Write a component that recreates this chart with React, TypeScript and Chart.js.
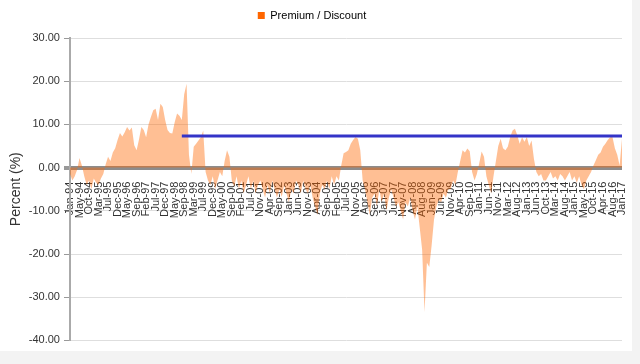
import React, { useEffect, useRef } from "react";
import { Chart, registerables } from "chart.js";

Chart.register(...registerables);

// Tick labels shown on the x axis (one every 4 data points)
const tickLabels: string[] = [
  "Jan-94", "May-94", "Oct-94", "Mar-95", "Jul-95", "Dec-95", "May-96", "Sep-96", "Feb-97", "Jul-97",
  "Dec-97", "May-98", "Sep-98", "Mar-99", "Jul-99", "Dec-99", "May-00", "Sep-00", "Feb-01", "Jul-01",
  "Nov-01", "Apr-02", "Sep-02", "Jan-03", "Jun-03", "Nov-03", "Apr-04", "Sep-04", "Feb-05", "Jul-05",
  "Nov-05", "Apr-06", "Sep-06", "Jan-07", "Jun-07", "Nov-07", "Apr-08", "Aug-08", "Jan-09", "Jun-09",
  "Nov-09", "Apr-10", "Sep-10", "Jan-11", "Jun-11", "Nov-11", "Mar-12", "Aug-12", "Jan-13", "Jun-13",
  "Oct-13", "Mar-14", "Aug-14", "Jan-15", "May-15", "Oct-15", "Apr-16", "Aug-16", "Jan-17",
];

const POINTS_PER_TICK = 4;

// Premium / Discount (%) values (4 per tick interval)
const premiumDiscount: number[] = [
  -1.5, -3, -2, -0.5,
  2.2, 0.5, -2, -4,
  -3, -5, -2.5, -3.5,
  -4, -2.5, -1.5, 0.8,
  2.5, 1.5, 3.5, 4.5,
  6.4, 8, 7.2, 8.2,
  9.4, 8.6, 9.3, 5.2,
  4.0, 6.5, 9.4, 8.7,
  7, 10, 11.7, 13.3,
  13.6, 11, 14.8, 14,
  11, 8.7, 8, 7.9,
  10.5, 12.5, 12, 11,
  17, 19.4, 3, -1.5,
  4.8, 5.5, 6.3, 7,
  8.6, -1, -3, -4,
  -2, -5, -3, -1,
  -2, 1.5, 4, 2.5,
  -3, -4.5, -2, -5,
  -3, -6, -4, -2,
  -5, -3, -6, -4,
  -3, -5, -7, -4,
  -6, -3, -5, -7,
  -5, -6.8, -4, -6,
  -8, -5, -6, -3,
  -4, -6, -3, -5,
  -6, -4, -7, -9,
  -11, -6, -4, -5,
  -3, -5, -2, -4,
  -2, -3, 0.5, 3.3,
  3.6, 4, 5.5, 6.4,
  7.1, 6.7, 4, -3,
  -5, -8, -11, -7,
  -6, -9, -5, -8,
  -6, -10, -7, -5,
  -7, -9, -8, -10,
  -12, -8, -9, -7,
  -10, -12, -9, -14,
  -19, -33.5, -22, -23,
  -18, -12, -9, -7.5,
  -8, -6, -7, -5,
  -5, -3, -4, -1,
  1.5, 4, 3.5, 4.4,
  3.8, -1, -3, -1.5,
  1, 3.7, 2.5, -2,
  -4, -6, -2, 1.5,
  5, 6.7, 4.5, 4,
  4.8, 7, 8.6, 9,
  7.5, 5.5, 7, 6,
  7.1, 5, 6.3, 2,
  -1, -2, -1.5, -3,
  -3, -2, -1, -2.5,
  -2, -3, -1.5, -2,
  -3, -2, -1, -3,
  -2, -3.5, -2, -4,
  -5, -3, -2, -1,
  0.5, 1.7, 3, 3.5,
  4.8, 5.5, 6.4, 7,
  7.1, 4.5, 3, 0.5,
  6.7,
];

// Average premium level line (starts at data point 47)
const averageValue = 7.3;
const averageStartIndex = 47;

const yTicks = { min: -40, max: 30, step: 10 };

const FONT = "'Liberation Sans', Arial, sans-serif";

// Adds a little space under the legend
const legendSpacer = {
  id: "legendSpacer",
  beforeInit(chart: any) {
    const legend = chart.legend;
    if (!legend) return;
    const origFit = legend.fit;
    legend.fit = function () {
      origFit.call(this);
      this.height += 7;
    };
  },
};

export default function App() {
  const canvasRef = useRef<HTMLCanvasElement | null>(null);

  useEffect(() => {
    document.body.style.margin = "0";
    document.body.style.background = "#f3f3f3";
    const canvas = canvasRef.current;
    if (!canvas) return;

    const categories = premiumDiscount.map((_, i) =>
      i % POINTS_PER_TICK === 0 ? tickLabels[i / POINTS_PER_TICK] ?? "" : ""
    );
    const averageData = premiumDiscount.map((_, i) => (i >= averageStartIndex ? averageValue : null));

    const chart = new Chart(canvas, {
      type: "line",
      plugins: [legendSpacer],
      data: {
        labels: categories,
        datasets: [
          {
            label: "Premium / Discount",
            data: premiumDiscount,
            backgroundColor: "rgba(255,102,0,0.42)",
            borderColor: "rgba(0,0,0,0)",
            borderWidth: 0,
            fill: "origin",
            pointRadius: 0,
            tension: 0,
            order: 2,
          },
          {
            label: "Average",
            data: averageData,
            borderColor: "#3434c8",
            borderWidth: 3,
            fill: false,
            pointRadius: 0,
            tension: 0,
            order: 1,
          },
        ],
      },
      options: {
        animation: false,
        responsive: false,
        devicePixelRatio: 1,
        layout: { padding: { left: 2, right: 10, top: 0, bottom: 4 } },
        plugins: {
          tooltip: { enabled: false },
          legend: {
            position: "top",
            labels: {
              boxWidth: 7,
              boxHeight: 7,
              padding: 10,
              color: "#333",
              font: { family: FONT, size: 11 },
              generateLabels: () => [
                {
                  text: "Premium / Discount",
                  fillStyle: "#FF6600",
                  strokeStyle: "#FF6600",
                  lineWidth: 0,
                  hidden: false,
                  datasetIndex: 0,
                } as any,
              ],
            },
          },
        },
        scales: {
          x: {
            type: "category",
            position: { y: 0 } as any,
            z: 1,
            grid: { display: false },
            border: { display: false },
            afterFit: (scale: any) => {
              scale.paddingRight = 0;
              scale.paddingLeft = 0;
            },
            ticks: {
              autoSkip: false,
              maxRotation: 90,
              minRotation: 90,
              padding: 6,
              color: "#333",
              font: { family: FONT, size: 11 },
              callback: (_v: any, i: number) => categories[i],
            },
          },
          y: {
            min: yTicks.min,
            max: yTicks.max,
            ticks: {
              stepSize: yTicks.step,
              color: "#333",
              padding: 4,
              font: { family: FONT, size: 11 },
              callback: (v: any) => Number(v).toFixed(2),
            },
            grid: {
              color: (ctx: any) => (ctx.tick && ctx.tick.value === 0 ? "#8c8c8c" : "#dedede"),
              lineWidth: (ctx: any) => (ctx.tick && ctx.tick.value === 0 ? 4 : 1),
              tickLength: 6,
              tickColor: "#999",
            },
            border: { color: "#aaa", width: 2 },
            title: {
              display: true,
              text: "Percent (%)",
              color: "#333",
              padding: { top: 6, bottom: 0 },
              font: { family: FONT, size: 14 },
            },
          },
        },
      },
    });

    return () => chart.destroy();
  }, []);

  return (
    <div style={{ width: 632, height: 351, background: "#ffffff" }}>
      <canvas ref={canvasRef} width={632} height={351} />
    </div>
  );
}
